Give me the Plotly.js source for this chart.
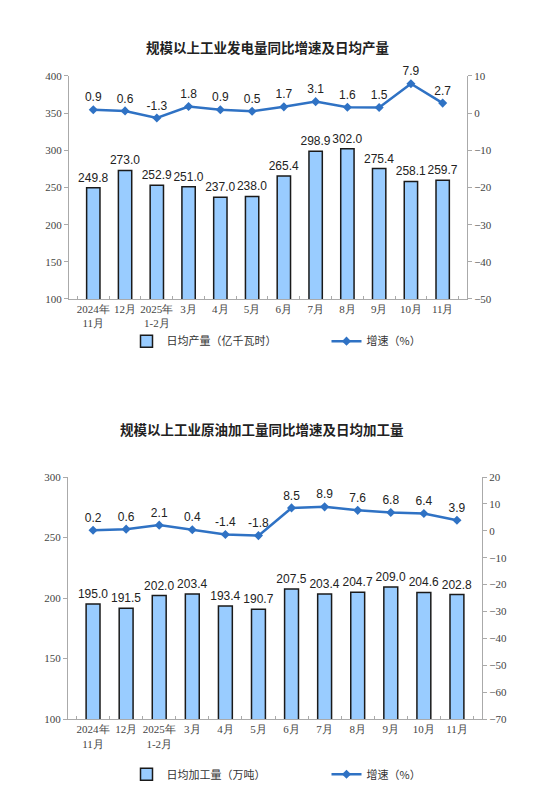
<!DOCTYPE html>
<html><head><meta charset="utf-8">
<script src="https://cdn.plot.ly/plotly-3.0.1.min.js"></script>
<style>html,body{margin:0;padding:0;background:#fff}#c{width:550px;height:799px}</style>
</head><body><div id="c"></div>
<script>
const categories = ['2024年<br>11月','12月','2025年<br>1-2月','3月','4月','5月','6月','7月','8月','9月','10月','11月'];
const powerOutput = [249.8,273.0,252.9,251.0,237.0,238.0,265.4,298.9,302.0,275.4,258.1,259.7];
const powerGrowth = [0.9,0.6,-1.3,1.8,0.9,0.5,1.7,3.1,1.6,1.5,7.9,2.7];
const crudeOutput = [195.0,191.5,202.0,203.4,193.4,190.7,207.5,203.4,204.7,209.0,204.6,202.8];
const crudeGrowth = [0.2,0.6,2.1,0.4,-1.4,-1.8,8.5,8.9,7.6,6.8,6.4,3.9];
const title1 = '规模以上工业发电量同比增速及日均产量';
const title2 = '规模以上工业原油加工量同比增速及日均加工量';
const barName1 = '日均产量（亿千瓦时）';
const barName2 = '日均加工量（万吨）';
const lineName = '增速（%）';

const barColor = '#99CCFF', barLine = '#1a1a1a', lineColor = '#2F72C4';
const labFont = {family:'Liberation Sans, Arial', size:12, color:'#222'};
const tickFont = {family:'Liberation Serif, Times New Roman', size:11, color:'#444'};

function bars(y, name, xa, ya, leg){
  return {type:'bar', x:categories, y:y, name:name, xaxis:xa, yaxis:ya, legend:leg,
    marker:{color:barColor, line:{color:barLine, width:1.5}},
    text:y.map(v=>v.toFixed(1)), textposition:'outside', constraintext:'none', textfont:labFont, cliponaxis:false,
    hoverinfo:'skip'};
}
function line(y, xa, ya, leg){
  return {type:'scatter', mode:'lines+markers+text', x:categories, y:y, name:lineName, xaxis:xa, yaxis:ya, legend:leg,
    line:{color:lineColor, width:2.5}, marker:{symbol:'diamond', size:7, color:lineColor},
    text:y.map(v=>v.toFixed(1)), textposition:'top center', textfont:labFont, cliponaxis:false,
    hoverinfo:'skip'};
}
const data = [
  bars(powerOutput, barName1, 'x', 'y', 'legend'),
  line(powerGrowth, 'x', 'y2', 'legend'),
  bars(crudeOutput, barName2, 'x2', 'y3', 'legend2'),
  line(crudeGrowth, 'x2', 'y4', 'legend2')
];
const axCol = '#aaa';
function xax(dom, anchor){
  return {domain:dom, anchor:anchor, type:'category', showline:true, linecolor:axCol, linewidth:1, tickangle:0,
    ticks:'inside', tickson:'boundaries', ticklen:3, tickcolor:axCol, tickfont:tickFont, showgrid:false, zeroline:false, fixedrange:true};
}
function yl(dom, anchor, range){
  return {domain:dom, anchor:anchor, range:range, dtick:50, showline:true, linecolor:axCol, linewidth:1,
    ticks:'outside', ticklen:4, tickcolor:axCol, tickfont:tickFont, showgrid:false, zeroline:false};
}
function yr(over, anchor, range){
  return {overlaying:over, anchor:anchor, side:'right', range:range, dtick:10, showline:true, linecolor:axCol, linewidth:1,
    ticks:'outside', ticklen:4, tickcolor:axCol, tickfont:tickFont, showgrid:false, zeroline:false};
}
const legFont = {family:'Noto Sans CJK SC', size:11, color:'#333'};
const layout = {
  width:550, height:799, margin:{l:0,r:0,t:0,b:0}, paper_bgcolor:'#fff', plot_bgcolor:'#fff',
  barmode:'group', bargap:0.58, showlegend:true,
  xaxis: xax([0.1255,0.849],'y'),
  yaxis: yl([0.6258,0.9049],'x',[100,400]),
  yaxis2: yr('y','x',[-50,10]),
  xaxis2: xax([0.1236,0.8764],'y3'),
  yaxis3: yl([0.1001,0.403],'x2',[100,300]),
  yaxis4: yr('y3','x2',[-70,20]),
  legend:{orientation:'h', x:0.23, xanchor:'left', y:0.573, yanchor:'middle', font:legFont, entrywidth:155, entrywidthmode:'pixels', bgcolor:'rgba(0,0,0,0)'},
  legend2:{orientation:'h', x:0.23, xanchor:'left', y:0.031, yanchor:'middle', font:legFont, entrywidth:155, entrywidthmode:'pixels', bgcolor:'rgba(0,0,0,0)'},
  annotations:[
    {text:'<b>'+title1+'</b>', xref:'paper', yref:'paper', x:267/550, y:1-47/799, showarrow:false, xanchor:'center', yanchor:'middle', font:{family:'Noto Sans CJK SC', size:13.5, color:'#222'}},
    {text:'<b>'+title2+'</b>', xref:'paper', yref:'paper', x:262/550, y:1-429/799, showarrow:false, xanchor:'center', yanchor:'middle', font:{family:'Noto Sans CJK SC', size:13.5, color:'#222'}}
  ]
};
Plotly.newPlot('c', data, layout, {staticPlot:true});
</script></body></html>
